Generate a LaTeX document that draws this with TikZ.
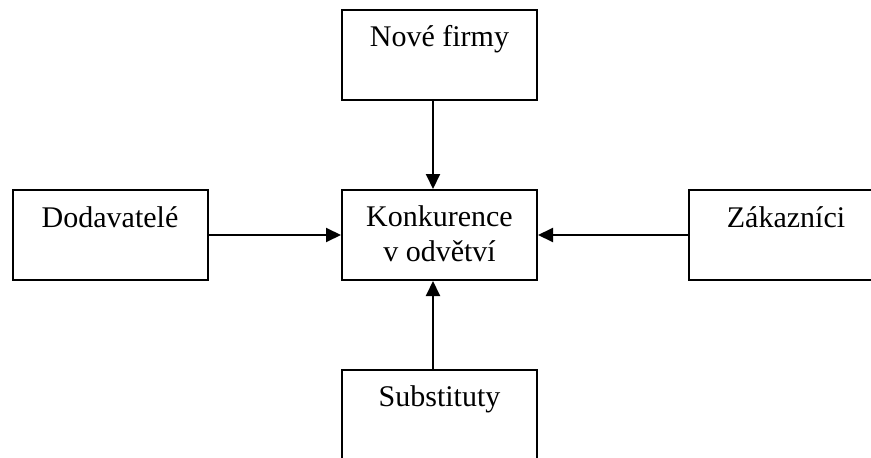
\documentclass[tikz,border=0pt]{standalone}
\usepackage{fontspec}
\setmainfont{Liberation Serif}
\usetikzlibrary{arrows.meta,calc}

\tikzset{
  block/.style={draw, line width=2pt, rectangle, minimum width=195pt,
                minimum height=90pt, inner sep=0pt},
  caption/.style={anchor=base, align=center, inner sep=0pt,
                  font=\fontsize{30}{35}\selectfont},
  link/.style={line width=2pt, -{Triangle[length=15pt,width=14pt]}}
}

\begin{document}
\begin{tikzpicture}[x=1pt, y=-1pt]
  \useasboundingbox (0,0) rectangle (871,458);
  \clip (0,0) rectangle (871,458);

  % the five boxes
  \node[block] (newfirms) at (439.5,55)  {};
  \node[block] (supply)   at (110,235)   {};
  \node[block] (rivalry)  at (439.5,235) {};
  \node[block] (buyers)   at (786,235)   {};
  \node[block, minimum height=92pt] (substit) at (439.5,416) {};

  % their captions, set near the top edge of each box
  \node[caption] (tnew) at ($(newfirms.north)+(0,37)$) {Nové firmy};
  \node[caption] (tsup) at ($(supply.north)+(0,38)$) {Dodavatelé};
  % two-line caption: its base anchor sits on the second line
  \node[caption] (triv) at ($(rivalry.north)+(0,72)$) {Konkurence\\v odvětví};
  \node[caption] (tbuy) at ($(buyers.north)+(0,38)$) {Zákazníci};
  \node[caption] (tsub) at ($(substit.north)+(0,37)$) {Substituty};

  % vertical arrows run slightly left of the box centres
  \coordinate (vx) at (433,0);

  \draw[link] (newfirms.south -| vx) -- (rivalry.north -| vx);
  \draw[link] (substit.north -| vx) -- (rivalry.south -| vx);
  \draw[link] (supply.east) -- (rivalry.west);
  \draw[link] (buyers.west) -- (rivalry.east);
\end{tikzpicture}
\end{document}
